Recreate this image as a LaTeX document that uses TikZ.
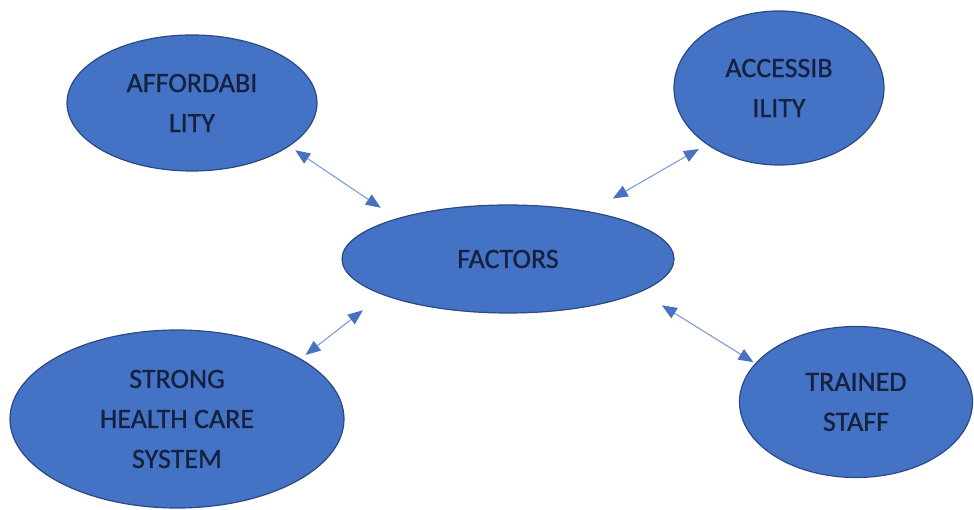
\documentclass[tikz,border=0pt]{standalone}
\usepackage{fontspec}
\setmainfont{Carlito}[FakeBold=0.8]
\usetikzlibrary{shapes.geometric,arrows.meta}
\definecolor{factorfill}{HTML}{4472C4}
\definecolor{factorline}{HTML}{2C4A80}
\definecolor{factortext}{HTML}{15213F}
\definecolor{linkline}{HTML}{7E9CD6}
\definecolor{linkhead}{HTML}{4A70C0}
\tikzset{
  factor/.style={ellipse, draw=factorline, line width=1.2pt, fill=factorfill, inner sep=0pt,
    align=center, text=factortext, font=\fontsize{28}{40}\selectfont},
  link/.style={draw=linkline, line width=1.1pt,
    {Triangle[length=15pt,width=12pt,color=linkhead]}-{Triangle[length=15pt,width=12pt,color=linkhead]}}
}
\begin{document}
\begin{tikzpicture}[x=1pt, y=-1pt]
\useasboundingbox (0,0) rectangle (974,510);
% the four factors round the centre
\node[factor, minimum width=332pt, minimum height=108pt] (fac) at (508,259) {FACTORS};
\node[factor, minimum width=250pt, minimum height=136pt] (aff) at (192,103) {AFFORDABI\\LITY};
\node[factor, minimum width=210pt, minimum height=154pt] (acc) at (779,88) {ACCESSIB\\ILITY};
\node[factor, minimum width=334pt, minimum height=178pt] (shc) at (177,419) {STRONG\\HEALTH CARE\\SYSTEM};
\node[factor, minimum width=233pt, minimum height=151pt] (ts) at (856,402) {TRAINED\\STAFF};
% links
\draw[link, shorten <=7pt, shorten >=19pt] (aff.-24) -- (fac.160);
\draw[link, shorten <=26pt, shorten >=9pt] (fac.30) -- (acc.-142);
\draw[link, shorten <=6pt, shorten >=25pt] (shc.26) -- (fac.-164);
\draw[link, shorten <=25pt, shorten >=2pt] (fac.-14) -- (ts.159);
\end{tikzpicture}
\end{document}
